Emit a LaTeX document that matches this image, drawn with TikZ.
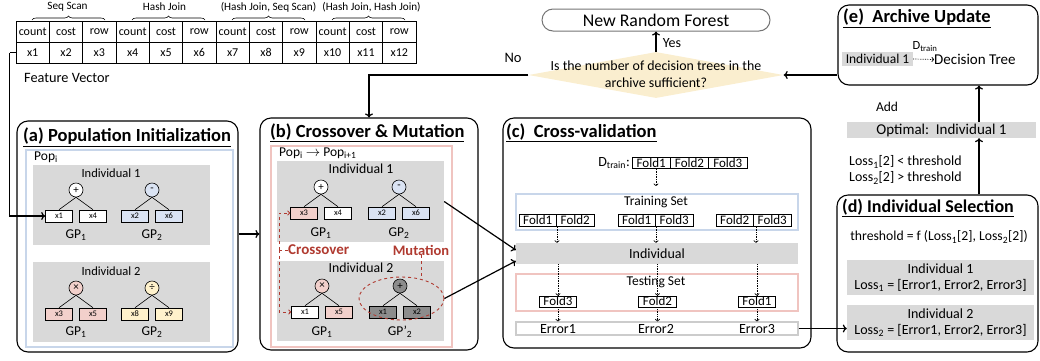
\documentclass[tikz,border=0pt]{standalone}
\usepackage{fontspec}
\setmainfont{Carlito}
\usetikzlibrary{shapes.geometric,decorations.pathreplacing,arrows.meta,calc}
\definecolor{gbox}{HTML}{D9D9D9}
\definecolor{blueF}{HTML}{DAE3F3}
\definecolor{blueB}{HTML}{C8D6EA}
\definecolor{pinkF}{HTML}{F2D0CB}
\definecolor{pinkB}{HTML}{F0C4C0}
\definecolor{yelF}{HTML}{FFF2CC}
\definecolor{diaF}{HTML}{FAEECF}
\definecolor{darkG}{HTML}{8C8C8C}
\definecolor{redT}{HTML}{B03A30}
\definecolor{errB}{HTML}{CCCCCC}
\newcommand\myfs[1]{\fontsize{#1}{#1}\selectfont}
\newcommand\gptree[9]{%
  \node[opc, fill=#5] (#1o) at (#2,#3) {#4};
  \node[leaf, fill=#7] (#1a) at ($(#1o)+(-17,26)$) {#6};
  \node[leaf, fill=#9] (#1b) at ($(#1o)+(17,26)$) {#8};
  \draw[tline] (#1o.south) -- (#1a.north);
  \draw[tline] (#1o.south) -- (#1b.north);
}
\begin{document}
\begin{tikzpicture}[x=1pt,y=-1pt,
  every node/.style={inner sep=0pt, font=\myfs{11}},
  panel/.style={draw, line width=1.1pt, rounded corners=11pt},
  ttl/.style={anchor=west, font=\myfs{18.5}\bfseries},
  cell/.style={draw, line width=0.6pt, minimum width=33.33pt, minimum height=21pt, font=\myfs{12}},
  opc/.style={circle, draw, line width=0.6pt, minimum size=14pt, font=\myfs{11}},
  leaf/.style={draw, line width=0.6pt, minimum width=27pt, minimum height=12pt, font=\myfs{8.5}},
  tline/.style={line width=0.6pt},
  gpl/.style={font=\myfs{13.5}},
  conn/.style={line width=1.2pt, -{To[length=4pt,width=8pt]}},
  dotarr/.style={densely dotted, line width=0.7pt, -{To[length=2.5pt,width=5pt]}},
  xdash/.style={dashed, draw=redT, line width=0.9pt},
  fold/.style={draw, line width=0.6pt, minimum width=37.5pt, minimum height=12.5pt, font=\myfs{13}},
  bracey/.style={decorate, decoration={brace, amplitude=4pt}, line width=0.6pt},
  gfill/.style={fill=gbox}
]
\useasboundingbox (0,0) rectangle (1040,360);

% ---------- feature table ----------
\foreach \k/\h in {0/count,1/cost,2/row,3/count,4/cost,5/row,6/count,7/cost,8/row,9/count,10/cost,11/row}{
  \pgfmathtruncatemacro\n{\k+1}
  \node[cell] (h\k) at ({32.67+33.33*\k},31.5) {\h};
  \node[cell] (v\k) at ({32.67+33.33*\k},52.5) {x\n};
}
\foreach \g/\cx/\t in {0/67.5/{Seq Scan},1/164.5/{Hash Join},2/268.5/{(Hash Join, Seq Scan)},3/371.5/{(Hash Join, Hash Join)}}{
  \draw[bracey] ({32+100*\g},20) -- ({105+100*\g},20);
  \node[font=\myfs{11.2}] (bl\g) at (\cx,7) {\t};
}
\node[anchor=west, font=\myfs{14.3}] (fv) at (24,78) {Feature Vector};

% ---------- top decision ----------
\node[draw=black!55, line width=1pt, rounded corners=11pt, minimum width=228pt, minimum height=22pt, font=\myfs{17.8}] (nrf) at (656,20) {New Random Forest};
\node[diamond, fill=diaF, minimum width=255pt, minimum height=46pt] (dia) at (656,75) {};
\node[align=center, font=\fontsize{13.9}{16.5}\selectfont] (dq) at (656,74) {Is the number of decision trees in the\\archive sufficient?};
\node[font=\myfs{14}] (yes) at (672,43) {Yes};
\node[font=\myfs{14.5}] (no) at (513,58) {No};

% ---------- panels ----------
\node[panel, minimum width=221pt, minimum height=231pt] (pa) at (127.5,236.5) {};
\node[panel, minimum width=218pt, minimum height=232pt] (pb) at (369,234) {};
\node[panel, minimum width=308pt, minimum height=230pt] (pc) at (657,233) {};
\node[panel, minimum width=201pt, minimum height=157pt] (pd) at (937.5,273.5) {};
\node[panel, minimum width=200pt, minimum height=80pt] (pe) at (938,45) {};

\node[ttl] (ta) at (23,137) {\underline{(a) Population Initialization}};
\node[ttl] (tb) at (270,133) {\underline{(b) Crossover \& Mutation}};
\node[ttl] (tc) at (506,133) {\underline{(c)\ \ Cross-validation}};
\node[ttl, font=\myfs{18}\bfseries] (td) at (842,208) {\underline{(d) Individual Selection}};
\node[ttl] (te) at (843,18) {\underline{(e)\ \ Archive Update}};

% ---------- panel (a) ----------
\node[draw=blueB, line width=1.2pt, minimum width=207pt, minimum height=197pt] (arect) at (129.5,248.5) {};
\node[anchor=west, font=\myfs{13.5}] (apop) at (34,157) {Pop\textsubscript{i}};
\node[gfill, minimum width=177pt, minimum height=80pt] (ai1) at (121.5,205) {};
\node[gfill, minimum width=177pt, minimum height=80pt] (ai2) at (121.5,302) {};
\node[font=\myfs{12.5}] (ai1t) at (111,173) {Individual 1};
\node[font=\myfs{12.5}] (ai2t) at (111,271) {Individual 2};
\gptree{aA}{76}{190}{+}{white}{x1}{white}{x4}{white}
\gptree{aB}{152}{190}{-}{blueF}{x2}{blueF}{x6}{blueF}
\gptree{aC}{76}{288}{×}{pinkF}{x3}{pinkF}{x5}{pinkF}
\gptree{aD}{152}{288}{÷}{yelF}{x8}{yelF}{x9}{yelF}
\node[gpl] (agA) at (76,235) {GP\textsubscript{1}};
\node[gpl] (agB) at (152,235) {GP\textsubscript{2}};
\node[gpl] (agC) at (76,332) {GP\textsubscript{1}};
\node[gpl] (agD) at (152,332) {GP\textsubscript{2}};

% ---------- panel (b) ----------
\node[draw=pinkB, line width=1.2pt, minimum width=181pt, minimum height=201pt] (brect) at (361.5,246.5) {};
\node[anchor=west, font=\myfs{13.5}] (bpop) at (279,153) {Pop\textsubscript{i} $\rightarrow$\ Pop\textsubscript{i+1}};
\node[gfill, minimum width=167pt, minimum height=81pt] (bi1) at (360.5,201.5) {};
\node[gfill, minimum width=167pt, minimum height=80pt] (bi2) at (360.5,301) {};
\node[font=\myfs{13.8}] (bi1t) at (361,169) {Individual 1};
\node[font=\myfs{13.8}] (bi2t) at (361,268) {Individual 2};
\gptree{bA}{321}{187}{+}{white}{x3}{pinkF}{x4}{white}
\gptree{bB}{399}{187}{-}{blueF}{x2}{blueF}{x6}{blueF}
\gptree{bC}{322}{286}{×}{pinkF}{x1}{white}{x5}{pinkF}
\gptree{bD}{400}{286}{+}{darkG}{x1}{darkG}{x2}{darkG}
\node[gpl] (bgA) at (321,233) {GP\textsubscript{1}};
\node[gpl] (bgB) at (399,233) {GP\textsubscript{2}};
\node[gpl] (bgC) at (322,332) {GP\textsubscript{1}};
\node[gpl] (bgD) at (400,332) {GP’\textsubscript{2}};
\node[ellipse, draw=redT, dashed, line width=0.9pt, minimum width=85pt, minimum height=43pt] (mel) at (401.5,298.5) {};
\node[anchor=west, text=redT, font=\myfs{15}\bfseries] (cross) at (288,250) {Crossover};
\node[text=redT, font=\myfs{14.5}\bfseries] (mut) at (421,250) {Mutation};
\coordinate (cvx) at (279,0);
\coordinate (mx) at (421,0);
\draw[xdash] (cvx |- cross.west) -- (cross.west);
\draw[xdash, -{To[length=3pt,width=5pt]}] (cvx |- cross.west) -- (cvx |- bAa.west) -- (bAa.west);
\draw[xdash, -{To[length=3pt,width=5pt]}] (cvx |- cross.west) -- (cvx |- bCa.west) -- (bCa.west);
\draw[xdash] (mx |- mut.south) -- (mx |- mel.north);

% ---------- panel (c) ----------
\coordinate (c1) at (557,0);
\coordinate (c2) at (656,0);
\coordinate (c3) at (756,0);
\node[anchor=east, font=\myfs{14}] (dtr) at (630,163) {D\textsubscript{train}:};
\node[fold, minimum width=38.33pt, minimum height=11pt] (f1) at (651.2,163) {Fold1};
\node[fold, minimum width=38.33pt, minimum height=11pt] (f2) at (689.5,163) {Fold2};
\node[fold, minimum width=38.33pt, minimum height=11pt] (f3) at (727.8,163) {Fold3};
\coordinate (dtend) at (656,186);
\draw[dotarr] (f1.south -| c2) -- (dtend);
\node[draw=blueB, line width=1.2pt, minimum width=282pt, minimum height=36pt] (trs) at (657,212) {};
\node[font=\myfs{13.5}] (trt) at (656,202) {Training Set};
\node[fold] (p1a) at (537.75,220.5) {Fold1};
\node[fold] (p1b) at (575.25,220.5) {Fold2};
\node[fold] (p2a) at (636.75,220.5) {Fold1};
\node[fold] (p2b) at (674.25,220.5) {Fold3};
\node[fold] (p3a) at (734.75,220.5) {Fold2};
\node[fold] (p3b) at (772.25,220.5) {Fold3};
\node[gfill, minimum width=282pt, minimum height=21pt, font=\myfs{14}] (ind) at (657,253.5) {Individual};
\node[draw=pinkB, line width=1.2pt, minimum width=282pt, minimum height=37pt] (tes) at (657,292.5) {};
\node[font=\myfs{13.5}] (tet) at (656,282) {Testing Set};
\node[fold, minimum height=11pt] (t1) at (558,301.5) {Fold3};
\node[fold, minimum height=11pt] (t2) at (657.5,301.5) {Fold2};
\node[fold, minimum height=11pt] (t3) at (757,301.5) {Fold1};
\node[draw=errB, line width=1.2pt, minimum width=282pt, minimum height=13pt] (err) at (657,328.5) {};
\node[font=\myfs{14}] (e1t) at (558,329) {Error1};
\node[font=\myfs{14}] (e2t) at (656,329) {Error2};
\node[font=\myfs{14}] (e3t) at (757,329) {Error3};
\draw[dotarr] (p1a.south -| c1) -- (ind.north -| c1);
\draw[dotarr] (p2a.south -| c2) -- (ind.north -| c2);
\draw[dotarr] (p3a.south -| c3) -- (ind.north -| c3);
\draw[dotarr] (ind.south -| t1) -- (t1.north);
\draw[dotarr] (ind.south -| t2) -- (t2.north);
\draw[dotarr] (ind.south -| t3) -- (t3.north);
\draw[dotarr] (t1.south) -- (err.north -| t1);
\draw[dotarr] (t2.south) -- (err.north -| t2);
\draw[dotarr] (t3.south) -- (err.north -| t3);

% ---------- panel (d) ----------
\node[font=\myfs{13.7}] (thr) at (939,237) {threshold = f (Loss\textsubscript{1}[2], Loss\textsubscript{2}[2])};
\node[gfill, minimum width=187pt, minimum height=35pt, align=center, font=\fontsize{14}{15.5}\selectfont] (d1) at (940.5,277.5) {Individual 1\\Loss\textsubscript{1} = [Error1, Error2, Error3]};
\node[gfill, minimum width=187pt, minimum height=35pt, align=center, font=\fontsize{14}{15.5}\selectfont] (d2) at (940.5,322.5) {Individual 2\\Loss\textsubscript{2} = [Error1, Error2, Error3]};

% ---------- panel (e) and links ----------
\node[gfill, minimum width=71pt, minimum height=14pt, font=\myfs{13.5}] (e1) at (877.5,59) {Individual 1};
\node[anchor=west, font=\myfs{15}] (dt) at (934,59.5) {Decision Tree};
\draw[dotarr] (e1.east) -- (dt.west);
\node[font=\myfs{12.5}] (dtl) at (925,46.5) {D\textsubscript{train}};
\node[gfill, minimum width=189pt, minimum height=16pt, font=\myfs{15}] (opt) at (941.5,130) {Optimal:\ \ Individual 1};
\node[font=\myfs{13.5}] (add) at (887,107) {Add};
\node[anchor=west, font=\myfs{13.9}] (l1) at (849,162) {Loss\textsubscript{1}[2] < threshold};
\node[anchor=west, font=\myfs{13.9}] (l2) at (849,178) {Loss\textsubscript{2}[2] > threshold};
\coordinate (optx) at (979,0);

% ---------- connectors ----------
\draw[line width=1.2pt] (v0.west) -- ++(-6,0) coordinate (tl);
\draw[conn] (tl) |- (aAa.west);
\draw[conn] (pa.east |- pb.west) -- (pb.west);
\draw[conn] (dia.west) -| (pb.north);
\draw[conn] (dia.north) -- (nrf.south);
\draw[conn] (pe.west |- dia.east) -- (dia.east);
\draw[conn] (bi1.east) -- ([yshift=3.5pt]ind.west);
\draw[conn] (mel.east) -- ([yshift=-7.5pt]ind.west);
\draw[conn] (err.east) -- (err.east -| d2.west);
\draw[conn] (pd.north -| optx) -- (opt.south -| optx);
\draw[conn] (opt.north -| optx) -- (pe.south -| optx);
\end{tikzpicture}
\end{document}
